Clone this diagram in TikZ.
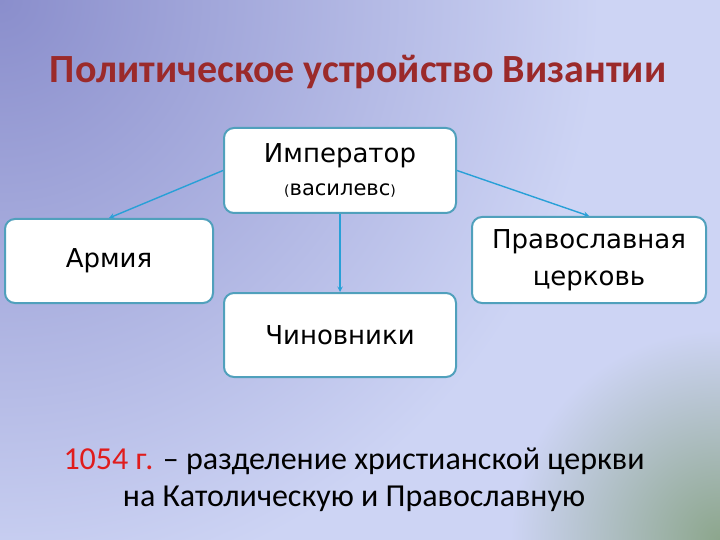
\documentclass[tikz,border=0pt]{standalone}
\usepackage{fontspec}
\setmainfont{Carlito}
\newfontfamily\boxfont{DejaVu Sans}
\usetikzlibrary{arrows,positioning}
\definecolor{bgmain}{RGB}{205,212,244}
\definecolor{bgcorner}{RGB}{138,142,204}
\definecolor{bggreen}{RGB}{140,166,140}
\definecolor{titlered}{RGB}{155,42,42}
\definecolor{yearred}{RGB}{224,28,28}
\definecolor{boxline}{RGB}{80,160,188}
\definecolor{linkblue}{RGB}{40,160,215}
\newcommand{\parenfont}{\fontsize{14}{16}\selectfont}

\begin{document}
\begin{tikzpicture}[x=1pt, y=-1pt, >=stealth,
  box/.style={draw=boxline, line width=2pt, fill=white, rounded corners=10pt,
    align=center, inner sep=0pt, font=\boxfont\fontsize{26}{37}\selectfont},
  link/.style={->, draw=linkblue, line width=1.4pt}]
  % Background
  \useasboundingbox (0,0) rectangle (720,540);
  \begin{scope}
    \clip (0,0) rectangle (720,540);
    \fill[bgmain] (0,0) rectangle (720,540);
    \shade[inner color=bgcorner, outer color=bgmain] (0,0) circle (600pt);
    \shade[inner color=bggreen, outer color=bgmain] (720,540) circle (210pt);
  \end{scope}

  % Title
  \node (title) at (358,72) {\fontsize{40}{44}\selectfont\bfseries\color{titlered}Политическое устройство Византии};

  % Boxes
  \node (emperor) [box, minimum width=232pt, minimum height=85pt] at (340,170.5)
    {Император\\[-4pt]{\parenfont(}{\fontsize{21}{24}\selectfont василевс}{\parenfont)}};
  \node (army) [box, minimum width=208pt, minimum height=84pt] at (109,261) {Армия};
  \node (church) [box, minimum width=234pt, minimum height=86pt] at (589,260)
    {Православная\\церковь};
  \node (officials) [box, minimum width=232pt, minimum height=84pt] at (340,335) {Чиновники};

  % Arrows
  \draw[link] (emperor.west) -- (army.north);
  \draw[link] (emperor.east) -- (church.north);
  \draw[link] (emperor.south) -- (officials.north);

  % Note
  \node (note) at (354,480) [align=center, font=\fontsize{32}{37}\selectfont]
    {\textcolor{yearred}{1054 г.} – разделение христианской церкви\\на Католическую и Православную};
\end{tikzpicture}
\end{document}
